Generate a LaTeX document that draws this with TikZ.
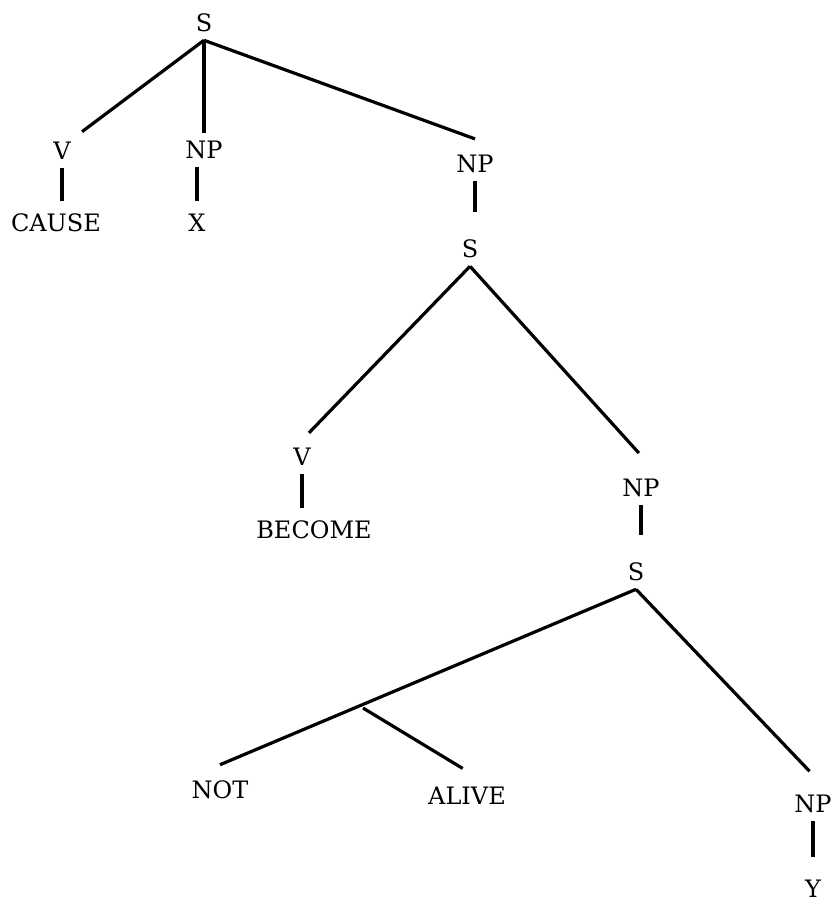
\documentclass[tikz,border=0pt]{standalone}
\usepackage{fontspec}
\setmainfont{DejaVu Serif}
\begin{document}
\begin{tikzpicture}[x=1pt,y=-1pt,
    cat/.style={inner sep=8pt,font=\fontsize{24}{30}\selectfont},
    branch/.style={line width=3.2pt,shorten >=#1},
    branch/.default=0pt,
    unary/.style={line width=3.2pt,shorten >=#1},
    unary/.default=5pt]
    \useasboundingbox (0,0) rectangle (837,902);
    % categories
    \node[cat] (s1) at (204,23) {S};
    \node[cat] (v1) at (62,151) {V};
    \node[cat] (np1) at (204,150) {NP};
    \node[cat] (np2) at (475,164) {NP};
    \node[cat] (cause) at (56,223) {CAUSE};
    \node[cat] (xx) at (197,223) {X};
    \node[cat] (s2) at (470,249) {S};
    \node[cat] (v2) at (302,457) {V};
    \node[cat] (become) at (314,530) {BECOME};
    \node[cat] (np3) at (641,488) {NP};
    \node[cat] (s3) at (636,572) {S};
    \node[cat] (notn) at (220,790) {NOT};
    \node[cat] (alive) at (467,796) {ALIVE};
    \node[cat] (np4) at (813,804) {NP};
    \node[cat] (yy) at (813,889) {Y};
    \coordinate (fork) at (363,708);
    % top clause
    \draw[branch=4pt] (s1.south) -- (v1.north east);
    \draw[branch] (np1.north |- s1.south) -- (np1.north);
    \draw[branch] (s1.south) -- ([yshift=8pt]np2.north);
    \draw[unary] (v1.south) -- (v1.south |- cause.north);
    \draw[unary] (xx.north |- np1.south) -- (xx.north);
    \draw[unary=20pt] (np2.south) -- (np2.south |- s2.north);
    % BECOME clause
    \draw[branch=10pt] (s2.south) -- (v2.north);
    \draw[branch=24pt] (s2.south) -- ([xshift=14pt]np3.north);
    \draw[unary] (v2.south) -- (v2.south |- become.north);
    \draw[unary=20pt] (np3.south) -- (np3.south |- s3.north);
    % NOT ALIVE clause
    \draw[branch] (s3.south) -- ([yshift=8pt]notn.north);
    \draw[branch=5pt] (fork) -- ([yshift=8pt]alive.north);
    \draw[branch=5pt] (s3.south) -- ([yshift=12pt]np4.north);
    \draw[unary=15pt] (np4.south) -- (np4.south |- yy.north);
\end{tikzpicture}
\end{document}
